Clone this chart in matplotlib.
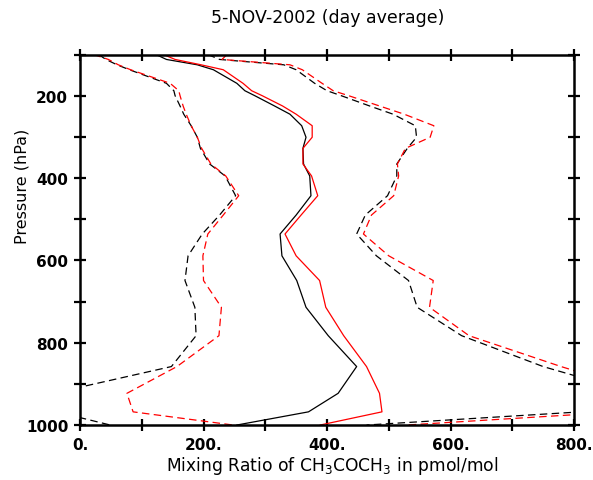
"""
Vertical profile of acetone (CH3COCH3) mixing ratio, 5-NOV-2002 day average.
Black = run A, red = run B; solid = mean, dashed = lower / upper envelope.
"""

import matplotlib
matplotlib.use("Agg")
import matplotlib.pyplot as plt

# ── data ───────────────────────────────────────────────────────────────────────
pressure = [100, 112, 125, 137, 170, 188, 200, 225, 245, 273, 301, 328, 366,
            395, 443, 490, 536, 589, 649, 714, 783, 858, 923, 968, 1000]

black_mean = [123, 140, 190, 216, 254, 267, 283, 315, 340, 359, 366, 361, 362,
              372, 374, 350, 324, 327, 351, 366, 402, 448, 418, 370, 254]
red_mean = [135, 154, 196, 232, 264, 278, 295, 328, 350, 376, 376, 361, 361,
            375, 385, 358, 332, 350, 388, 398, 427, 464, 485, 489, 389]

black_low = [30, 42, 60, 80, 140, 152, 154, 162, 168, 180, 190, 195, 210,
             235, 252, 226, 198, 175, 170, 186, 188, 148, -44, -38, 49]
red_low = [22, 46, 62, 82, 146, 160, 162, 167, 172, 180, 190, 197, 212,
           236, 257, 232, 207, 199, 200, 229, 225, 157, 76, 86, 248]

black_high = [207, 226, 330, 350, 380, 400, 423, 469, 507, 543, 545, 530, 513,
              513, 498, 462, 448, 480, 532, 546, 618, 750, 900, 811, 464]
red_high = [238, 230, 340, 360, 392, 410, 435, 485, 525, 573, 567, 527, 514,
            516, 508, 472, 459, 500, 572, 566, 630, 779, 920, 876, 529]

x_ticks = [0, 200, 400, 600, 800]
x_ticklabels = ["0.", "200.", "400.", "600.", "800."]
y_ticks = [200, 400, 600, 800, 1000]

# ── figure ─────────────────────────────────────────────────────────────────────
fig = plt.figure(figsize=(5.93, 4.81), dpi=100)
ax = fig.add_axes([0.1349, 0.1143, 0.8331, 0.7703])

dash = (6, 3.5)
ax.plot(black_low, pressure, color="black", lw=0.9, dashes=dash)
ax.plot(black_high, pressure, color="black", lw=0.9, dashes=dash)
ax.plot(black_mean, pressure, color="black", lw=0.9)
ax.plot(red_low, pressure, color="red", lw=0.9, dashes=dash)
ax.plot(red_high, pressure, color="red", lw=0.9, dashes=dash)
ax.plot(red_mean, pressure, color="red", lw=0.9)

ax.set_xlim(0, 800)
ax.set_ylim(1000, 100)

ax.set_xticks(x_ticks)
ax.set_xticklabels(x_ticklabels)
ax.set_xticks(range(0, 801, 100), minor=True)
ax.set_yticks(y_ticks)
ax.set_yticks(range(100, 1001, 100), minor=True)

for which in ("major", "minor"):
    ax.tick_params(axis="both", which=which, direction="inout", length=9,
                   width=1.6, top=True, right=True, labelsize=11, pad=4)
for lab in ax.get_xticklabels() + ax.get_yticklabels():
    lab.set_fontweight("bold")
for s in ax.spines.values():
    s.set_linewidth(1.8)

fig.text(0.553, 0.962, "5-NOV-2002 (day average)", ha="center", va="center",
         fontsize=12.5)
fig.text(0.56, 0.031, "Mixing Ratio of CH$_3$COCH$_3$ in pmol/mol",
         ha="center", va="center", fontsize=12.3)
fig.text(0.037, 0.613, "Pressure (hPa)", ha="center", va="center",
         rotation=90, fontsize=11.5)

fig.savefig("out.png", dpi=100)
